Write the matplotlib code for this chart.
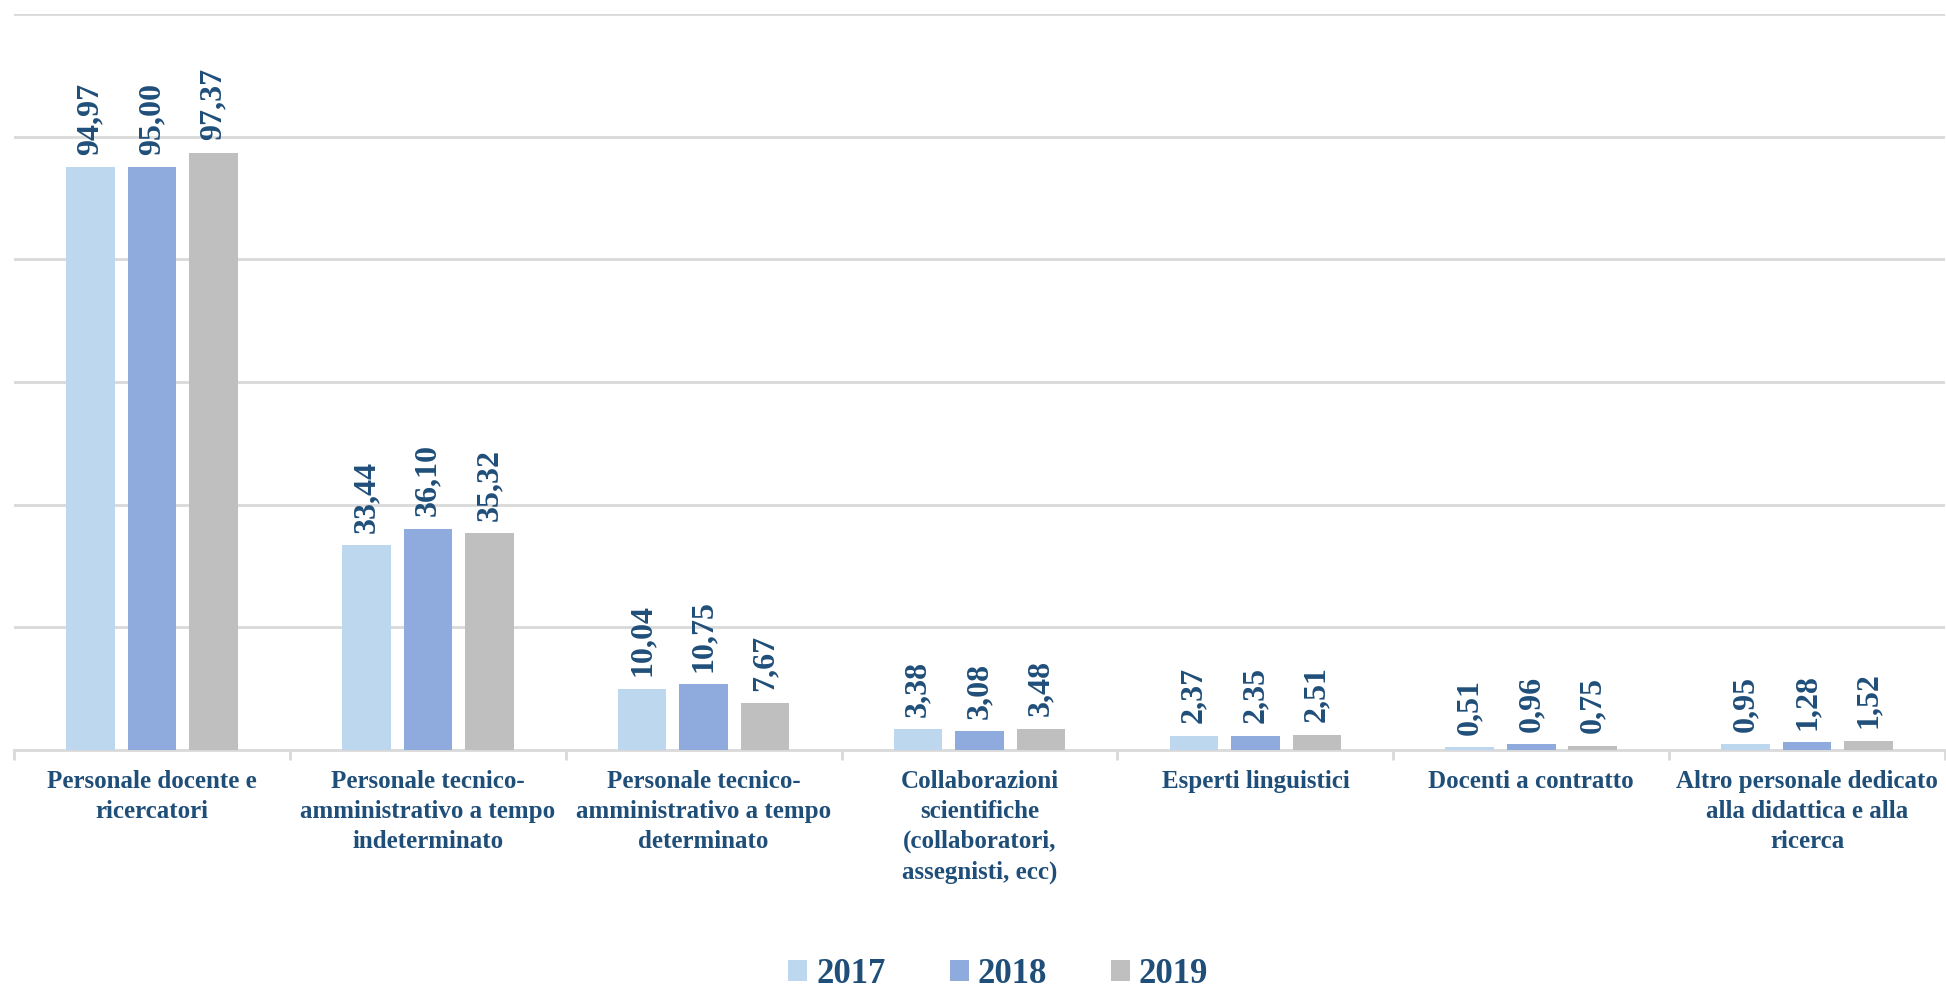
import numpy as np
import matplotlib.pyplot as plt
from matplotlib.patches import Patch

# Data
categories = [
    "Personale docente e\nricercatori",
    "Personale tecnico-\namministrativo a tempo\nindeterminato",
    "Personale tecnico-\namministrativo a tempo\ndeterminato",
    "Collaborazioni\nscientifiche\n(collaboratori,\nassegnisti, ecc)",
    "Esperti linguistici",
    "Docenti a contratto",
    "Altro personale dedicato\nalla didattica e alla\nricerca",
]
years = ["2017", "2018", "2019"]
v2017 = [94.97, 33.44, 10.04, 3.38, 2.37, 0.51, 0.95]
v2018 = [95.00, 36.10, 10.75, 3.08, 2.35, 0.96, 1.28]
v2019 = [97.37, 35.32, 7.67, 3.48, 2.51, 0.75, 1.52]

colors = ["#BDD7EE", "#8FAADC", "#BFBFBF"]
text_col = "#1F4E79"
grid_col = "#D9D9D9"

plt.rcParams["font.family"] = ["Liberation Serif", "DejaVu Serif"]
plt.rcParams["font.weight"] = "bold"

fig = plt.figure(figsize=(19.46, 9.91), dpi=100)
ax = fig.add_axes([0.0072, 0.243, 0.9923, 0.743])

x = np.arange(len(categories))
width = 0.176
step = 0.223

for k, (vals, c) in enumerate(zip([v2017, v2018, v2019], colors)):
    pos = x + (k - 1) * step
    ax.bar(pos, vals, width=width, color=c, zorder=3)
    for px, v in zip(pos, vals):
        ax.annotate(f"{v:.2f}".replace(".", ","), (px, v),
                    xytext=(0, 9), textcoords="offset points",
                    rotation=90, ha="center", va="bottom",
                    fontsize=23, fontweight="bold", color=text_col)

ax.set_xlim(-0.5, len(categories) - 0.5)
ax.set_ylim(0, 120)
ax.set_yticks(np.arange(20, 121, 20))
ax.yaxis.grid(True, color=grid_col, linewidth=2, zorder=0)
ax.tick_params(axis="y", left=False, labelleft=False)

ax.set_xticks(x)
ax.set_xticklabels(categories, fontsize=18, fontweight="bold",
                   color=text_col, linespacing=1.4)
ax.tick_params(axis="x", length=0, pad=14)
ax.set_xticks(np.arange(-0.5, len(categories), 1.0), minor=True)
ax.tick_params(axis="x", which="minor", length=7, width=2, color=grid_col)

for s in ["top", "right", "left"]:
    ax.spines[s].set_visible(False)
ax.spines["bottom"].set_color(grid_col)
ax.spines["bottom"].set_linewidth(2)

handles = [Patch(facecolor=c, edgecolor="none") for c in colors]
leg = fig.legend(handles, years, loc="lower center", ncol=3,
                 bbox_to_anchor=(0.513, 0.0), frameon=False,
                 fontsize=25, handlelength=0.55, handleheight=0.55,
                 handletextpad=0.25, columnspacing=1.85,
                 borderpad=0, borderaxespad=0)
for t in leg.get_texts():
    t.set_color(text_col)
    t.set_fontweight("bold")

fig.savefig("out.png", dpi=100)
